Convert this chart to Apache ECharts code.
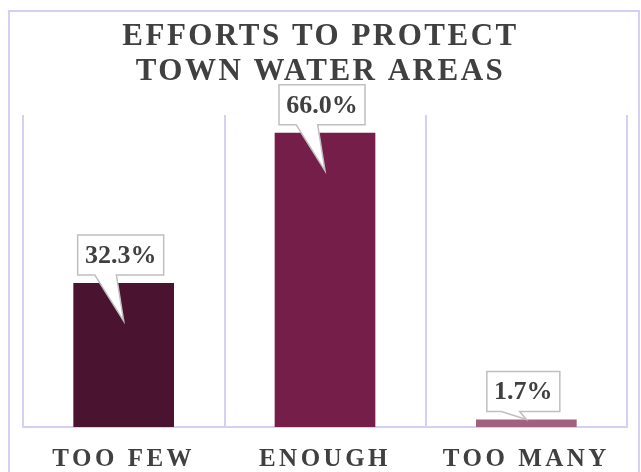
<!DOCTYPE html>
<html>
<head>
<meta charset="utf-8">
<script src="https://cdn.jsdelivr.net/npm/echarts@6/dist/echarts.min.js"></script>
<style>
  html, body { margin: 0; padding: 0; background: #ffffff; }
  #chart { width: 641px; height: 472px; }
</style>
</head>
<body>
<div id="chart"></div>
<script>
// Survey answers: share of respondents per answer (percent)
const categories = ['TOO FEW', 'ENOUGH', 'TOO MANY'];
const shares = [32.3, 66.0, 1.7];
const barColors = ['#4a1430', '#761e4a', '#a2607f'];
const titleLines = ['EFFORTS TO PROTECT', 'TOWN WATER AREAS'];
const yMax = 70;

const SERIF = '"Liberation Serif", "DejaVu Serif", serif';
const INK = '#404040';
const FRAME = '#d5d0f3';
const TITLE_SIZE = 31;
const LABEL_SIZE = 25;
const CALLOUT_SIZE = 26;
const CALLOUT_FONT = 'bold ' + CALLOUT_SIZE + 'px "Liberation Serif", "DejaVu Serif", serif';

// Tracked capitals: extra letter spacing keyed by font size
const tracking = { [TITLE_SIZE]: '2.5px', [LABEL_SIZE]: '3.5px' };
(function () {
  const proto = CanvasRenderingContext2D.prototype;
  if (!('letterSpacing' in proto)) return;
  const fill = proto.fillText;
  proto.fillText = function (text, x, y, maxWidth) {
    const m = /(\d+(?:\.\d+)?)px/.exec(this.font);
    this.letterSpacing = (m && tracking[+m[1]]) || '0px';
    return maxWidth === undefined
      ? fill.call(this, text, x, y)
      : fill.call(this, text, x, y, maxWidth);
  };
})();

const measureCtx = document.createElement('canvas').getContext('2d');
function textWidth(str, font) {
  measureCtx.font = font;
  return measureCtx.measureText(str).width;
}

// Rectangular callout with a wedge pointing down into the bar
function renderCallout(params, api) {
  const idx = api.value(0);
  const val = api.value(1);
  const top = api.coord([idx, val]);
  const base = api.coord([idx, 0]);
  const label = val.toFixed(1) + '%';

  const w = Math.round(textWidth(label, CALLOUT_FONT) + 14);
  const h = 40;
  const cx = top[0] - 3;
  const left = cx - w / 2;
  const right = cx + w / 2;
  const bottom = top[1] - 8;
  const upper = bottom - h;
  const tipX = top[0];
  const tipY = (base[1] - top[1]) > 45 ? top[1] + 38 : top[1];
  const wb1 = left + w * 0.2;
  const wb2 = left + w * 0.45;

  return {
    type: 'group',
    children: [
      {
        type: 'polygon',
        shape: {
          points: [
            [left, upper], [right, upper], [right, bottom],
            [wb2, bottom], [tipX, tipY], [wb1, bottom], [left, bottom]
          ]
        },
        style: { fill: '#ffffff', stroke: '#bfbfbf', lineWidth: 1.5 }
      },
      {
        type: 'text',
        style: {
          text: label,
          x: cx,
          y: upper + h / 2 + 1,
          align: 'center',
          verticalAlign: 'middle',
          font: CALLOUT_FONT,
          fill: INK
        }
      }
    ]
  };
}

const chart = echarts.init(document.getElementById('chart'), null, { renderer: 'canvas' });

chart.setOption({
  animation: false,
  backgroundColor: '#ffffff',
  graphic: [
    {
      type: 'rect',
      silent: true,
      z: -1,
      shape: { x: 9, y: 11, width: 630, height: 480 },
      style: { fill: 'none', stroke: FRAME, lineWidth: 2 }
    }
  ],
  title: {
    text: titleLines.join('\n'),
    left: 'center',
    top: 14,
    textStyle: {
      fontFamily: SERIF,
      fontWeight: 'bold',
      fontSize: TITLE_SIZE,
      lineHeight: 35,
      color: INK
    }
  },
  grid: { left: 23, right: 14, top: 115, bottom: 42 },
  xAxis: {
    type: 'category',
    data: categories,
    axisTick: { show: false },
    axisLine: { lineStyle: { color: FRAME, width: 2 } },
    splitLine: { show: true, lineStyle: { color: FRAME, width: 2 } },
    axisLabel: {
      fontFamily: SERIF,
      fontWeight: 'bold',
      fontSize: LABEL_SIZE,
      color: INK,
      margin: 20
    }
  },
  yAxis: { type: 'value', min: 0, max: yMax, show: false },
  series: [
    {
      type: 'bar',
      barWidth: '50%',
      data: shares.map((v, i) => ({ value: v, itemStyle: { color: barColors[i] } }))
    },
    {
      type: 'custom',
      z: 5,
      clip: false,
      data: shares.map((v, i) => [i, v]),
      renderItem: renderCallout
    }
  ]
});
</script>
</body>
</html>
